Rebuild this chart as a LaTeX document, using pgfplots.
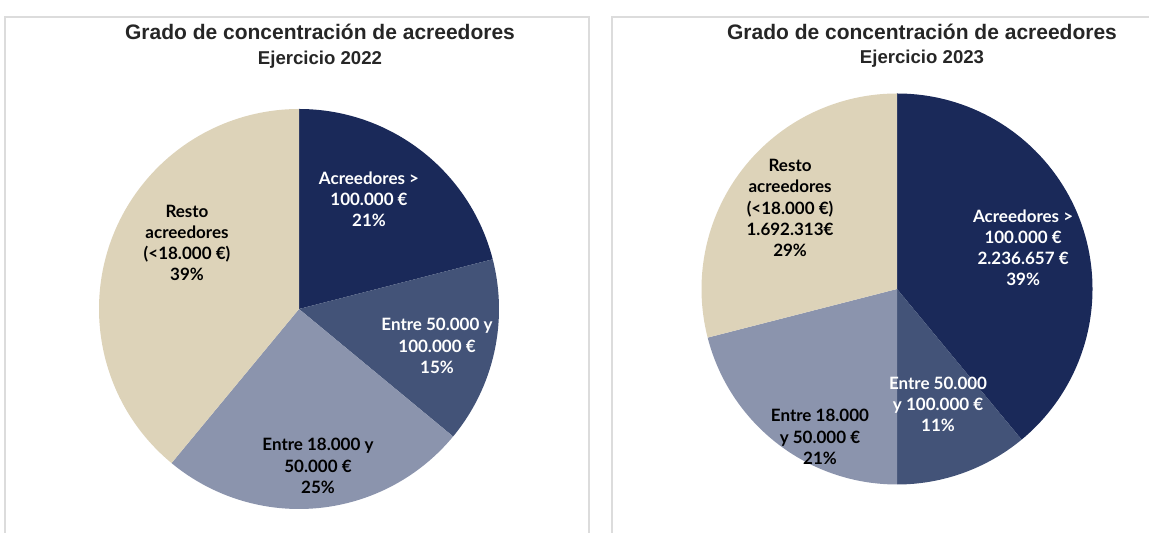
\documentclass[border=0pt]{standalone}
\usepackage{fontspec}
\usepackage{pgfplots}
\usepackage{pgfplotstable}
\pgfplotsset{compat=1.18}
\setmainfont{Liberation Sans}
\newfontfamily\labelfont{Lato}
\definecolor{cA}{HTML}{1A2959}
\definecolor{cB}{HTML}{435378}
\definecolor{cC}{HTML}{8B94AD}
\definecolor{cD}{HTML}{DDD3B9}
\definecolor{boxgray}{HTML}{DCDCDC}

% shares in percent, clockwise from 12 o'clock
\pgfplotstableread{
share color
21 cA
15 cB
25 cC
39 cD
}\tblA
\pgfplotstableread{
share color
39 cA
11 cB
21 cC
29 cD
}\tblB

\newcommand\drawpie[2]{%
  \pgfplotstablegetrowsof{#1}%
  \pgfmathtruncatemacro\lastrow{\pgfplotsretval-1}%
  \gdef\cumangle{90}%
  \foreach \r in {0,...,\lastrow}{%
    \pgfplotstablegetelem{\r}{share}\of{#1}\let\sh\pgfplotsretval
    \pgfplotstablegetelem{\r}{color}\of{#1}\let\cl\pgfplotsretval
    \pgfmathsetmacro\endang{\cumangle-3.6*\sh}%
    \edef\tmp{\noexpand\fill[\cl] (axis cs:0,0) -- (axis cs:{cos(\cumangle)},{sin(\cumangle)}) arc[start angle=\cumangle, end angle=\endang, radius=#2] -- cycle;}%
    \tmp
    \xdef\cumangle{\endang}%
  }}

\tikzset{lab/.style={align=center, font=\fontsize{8.5}{10.6}\selectfont\labelfont\bfseries}}

\begin{document}
\begin{tikzpicture}
\path[use as bounding box] (0,0) rectangle (574.5pt,266.5pt);
% frames
\draw[boxgray, line width=0.9pt] (2.5pt,-5pt) -- (2.5pt,258pt) -- (294.5pt,258pt) -- (294.5pt,-5pt);
\draw[boxgray, line width=0.9pt] (306pt,-5pt) -- (306pt,258pt) -- (580pt,258pt);
% titles
\node[anchor=base, font=\fontsize{10.5}{12}\selectfont\bfseries, text=black!85] at (160pt,246.5pt) {Grado de concentración de acreedores};
\node[anchor=base, font=\fontsize{9.3}{11}\selectfont\bfseries, text=black!85] at (160pt,234pt) {Ejercicio 2022};
\node[anchor=base, font=\fontsize{10.5}{12}\selectfont\bfseries, text=black!85] at (461pt,246.5pt) {Grado de concentración de acreedores};
\node[anchor=base, font=\fontsize{9.3}{11}\selectfont\bfseries, text=black!85] at (461pt,234.5pt) {Ejercicio 2023};

\begin{axis}[at={(149.5pt,112pt)}, anchor=center, x=100pt, y=100pt,
  xmin=-1, xmax=1, ymin=-1, ymax=1, hide axis, clip=false]
  \drawpie{\tblA}{100pt}
  \node[lab, text=white] at (axis cs:0.35,0.55) {Acreedores >\\100.000 €\\21\%};
  \node[lab, text=white] at (axis cs:0.69,-0.185) {Entre 50.000 y\\100.000 €\\15\%};
  \node[lab, text=black] at (axis cs:0.095,-0.785) {Entre 18.000 y\\50.000 €\\25\%};
  \node[lab, text=black] at (axis cs:-0.56,0.33) {Resto\\acreedores\\(<18.000 €)\\39\%};
\end{axis}

\begin{axis}[at={(448.5pt,122pt)}, anchor=center, x=97.75pt, y=97.75pt,
  xmin=-1, xmax=1, ymin=-1, ymax=1, hide axis, clip=false]
  \drawpie{\tblB}{97.75pt}
  \node[lab, text=white] at (axis cs:0.645,0.21) {Acreedores >\\100.000 €\\2.236.657 €\\39\%};
  \node[lab, text=white] at (axis cs:0.21,-0.59) {Entre 50.000\\y 100.000 €\\11\%};
  \node[lab, text=black] at (axis cs:-0.394,-0.757) {Entre 18.000\\y 50.000 €\\21\%};
  \node[lab, text=black] at (axis cs:-0.547,0.414) {Resto\\acreedores\\(<18.000 €)\\1.692.313€\\29\%};
\end{axis}
\end{tikzpicture}
\end{document}
